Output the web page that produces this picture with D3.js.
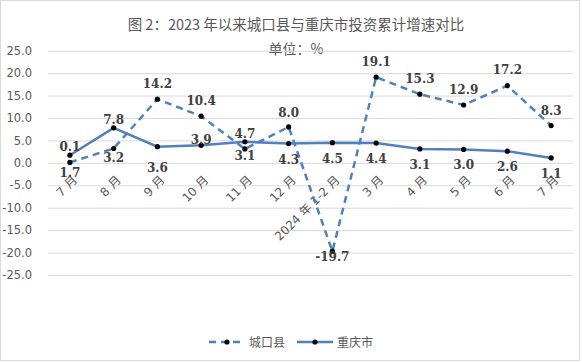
<!DOCTYPE html>
<html>
<head>
<meta charset="utf-8">
<script src="https://cdn.jsdelivr.net/npm/d3@7"></script>
<style>
  body { margin: 0; background: #fff; }
  svg { display: block; }
</style>
</head>
<body>
<svg width="583" height="362"></svg>
<script>
// data
var months = ["7月", "8月", "9月", "10月", "11月", "12月", "2024年1-2月", "3月", "4月", "5月", "6月", "7月"];
var monthLabels = ["7 月", "8 月", "9 月", "10 月", "11 月", "12 月", "2024 年 1-2 月", "3 月", "4 月", "5 月", "6 月", "7 月"];
var chengkou = [0.1, 3.2, 14.2, 10.4, 3.1, 8.0, -19.7, 19.1, 15.3, 12.9, 17.2, 8.3];
var chongqing = [1.7, 7.8, 3.6, 3.9, 4.7, 4.3, 4.5, 4.4, 3.1, 3.0, 2.6, 1.1];
var yTicks = [25, 20, 15, 10, 5, 0, -5, -10, -15, -20, -25];

// label vertical offsets (px from point to baseline), hand placed like the original
var ckLabelDy = [-11, 14, -11, -11, 11, -10, 10, -11, -11, -11, -12, -11];
var cqLabelDy = [22, -4, 25, -1, -4, 20, 20, 20, 20, 20, 20, 20];

var svg = d3.select("svg"),
    width = +svg.attr("width"),
    height = +svg.attr("height");

var blue = "#4f81bd";
var labelFont = "'DejaVu Serif', serif";
var sansFont = "'DejaVu Sans', 'Noto Sans CJK SC', sans-serif";
var cjkFont = "'Noto Sans CJK SC', 'DejaVu Sans', sans-serif";
var fmt = d => d.toFixed(1);

// border
svg.append("rect")
    .attr("x", 0.5).attr("y", 0.5)
    .attr("width", 579).attr("height", 360)
    .attr("fill", "#fff")
    .attr("stroke", "#d9d9d9");

var x = d3.scaleBand()
    .domain(d3.range(months.length))
    .range([48, 573])
    .padding(0);

var y = d3.scaleLinear()
    .domain([-25, 25])
    .range([275, 50.7]);

var cx = i => x(i) + x.bandwidth() / 2;

// title
svg.append("text")
    .attr("x", 296).attr("y", 30)
    .attr("text-anchor", "middle")
    .attr("font-family", cjkFont)
    .attr("font-size", 14.5)
    .attr("fill", "#595959")
    .text("图 2：2023 年以来城口县与重庆市投资累计增速对比");

svg.append("text")
    .attr("x", 296).attr("y", 54)
    .attr("text-anchor", "middle")
    .attr("font-family", cjkFont)
    .attr("font-size", 14)
    .attr("fill", "#595959")
    .text("单位：%");

// gridlines + y labels
var yAxis = svg.append("g")
    .attr("transform", "translate(48,0)")
    .call(d3.axisLeft(y).tickValues(yTicks).tickSize(-525).tickFormat(fmt));
yAxis.select(".domain").remove();
yAxis.selectAll(".tick line").attr("stroke", "#d9d9d9").attr("stroke-width", 1);
yAxis.selectAll(".tick text")
    .attr("x", -16)
    .attr("font-family", sansFont)
    .attr("font-size", 11.5)
    .attr("fill", "#595959");

// x labels, rotated
svg.append("g").selectAll("text")
    .data(monthLabels)
    .enter().append("text")
    .attr("transform", (d, i) => "translate(" + (cx(i) + 8) + "," + (y(0) + 18) + ") rotate(-45)")
    .attr("text-anchor", "end")
    .attr("font-family", sansFont)
    .attr("font-size", 12)
    .attr("fill", "#595959")
    .text(d => d);

var line = d3.line()
    .x((d, i) => cx(i))
    .y(d => y(d));

function drawSeries(vals, dashed) {
    var g = svg.append("g");
    g.append("path")
        .attr("d", line(vals))
        .attr("fill", "none")
        .attr("stroke", blue)
        .attr("stroke-width", 2.5)
        .attr("stroke-dasharray", dashed ? "7,5" : null);
    g.selectAll("circle")
        .data(vals)
        .enter().append("circle")
        .attr("cx", (d, i) => cx(i))
        .attr("cy", d => y(d))
        .attr("r", 2.6)
        .attr("fill", "#000");
    return g;
}

drawSeries(chengkou, true);
drawSeries(chongqing, false);

function drawLabels(vals, dys) {
    svg.append("g").selectAll("text")
        .data(vals)
        .enter().append("text")
        .attr("x", (d, i) => cx(i))
        .attr("y", (d, i) => y(d) + dys[i])
        .attr("text-anchor", "middle")
        .attr("font-family", labelFont)
        .attr("font-weight", "bold")
        .attr("font-size", 12)
        .attr("fill", "#404040")
        .text(fmt);
}
drawLabels(chengkou, ckLabelDy);
drawLabels(chongqing, cqLabelDy);

// legend
var legend = svg.append("g").attr("transform", "translate(0,342)");
var items = [
    {name: "城口县", dashed: true, x0: 209},
    {name: "重庆市", dashed: false, x0: 297}
];
items.forEach(function (it) {
    legend.append("line")
        .attr("x1", it.x0).attr("x2", it.x0 + 36)
        .attr("y1", 0).attr("y2", 0)
        .attr("stroke", blue)
        .attr("stroke-width", 2.5)
        .attr("stroke-dasharray", it.dashed ? "7,5" : null);
    legend.append("circle")
        .attr("cx", it.x0 + 18).attr("cy", 0)
        .attr("r", 2.6).attr("fill", "#000");
    legend.append("text")
        .attr("x", it.x0 + 40).attr("y", 4.5)
        .attr("font-family", cjkFont)
        .attr("font-size", 12)
        .attr("fill", "#595959")
        .text(it.name);
});
</script>
</body>
</html>
